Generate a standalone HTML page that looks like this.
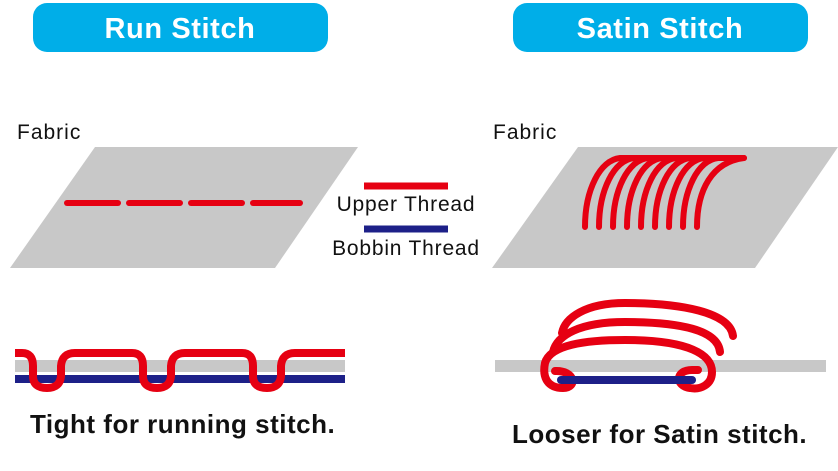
<!DOCTYPE html>
<html><head><style>body{margin:0;background:#fff}svg{display:block}</style></head><body>
<svg width="838" height="471" viewBox="0 0 838 471" xmlns="http://www.w3.org/2000/svg" font-family="Liberation Sans, sans-serif">
<rect x="33" y="3" width="295" height="49" rx="14" fill="#00aee8"/>
<text x="180" y="38" text-anchor="middle" fill="#fff" font-size="29" font-weight="bold" letter-spacing="0.6">Run Stitch</text>
<rect x="513" y="3" width="295" height="49" rx="14" fill="#00aee8"/>
<text x="660" y="38" text-anchor="middle" fill="#fff" font-size="29" font-weight="bold" letter-spacing="0.6">Satin Stitch</text>
<text x="17" y="139" font-size="21" letter-spacing="1" fill="#111">Fabric</text>
<text x="493" y="139" font-size="21" letter-spacing="1" fill="#111">Fabric</text>
<polygon points="95,147 358,147 275,268 10,268" fill="#c8c8c8"/>
<polygon points="578,147 838,147 755,268 492,268" fill="#c8c8c8"/>
<g stroke="#e60012" stroke-width="6" stroke-linecap="round">
<line x1="67" y1="203" x2="118" y2="203"/><line x1="129" y1="203" x2="180" y2="203"/><line x1="191" y1="203" x2="242" y2="203"/><line x1="253" y1="203" x2="300" y2="203"/>
</g>
<line x1="364" y1="186" x2="448" y2="186" stroke="#e60012" stroke-width="7"/>
<text x="406" y="211" text-anchor="middle" font-size="21" letter-spacing="0.8" fill="#111">Upper Thread</text>
<line x1="364" y1="229" x2="448" y2="229" stroke="#1d2088" stroke-width="7"/>
<text x="406" y="255" text-anchor="middle" font-size="21" letter-spacing="0.8" fill="#111">Bobbin Thread</text>
<g fill="none" stroke="#e60012" stroke-width="6" stroke-linecap="round">
<path d="M585 227 C585 190 600 160 620 158 L650 158"/>
<path d="M599 227 C599 190 614 160 634 158 L664 158"/>
<path d="M613 227 C613 190 628 160 648 158 L678 158"/>
<path d="M627 227 C627 190 642 160 662 158 L692 158"/>
<path d="M641 227 C641 190 656 160 676 158 L706 158"/>
<path d="M655 227 C655 190 670 160 690 158 L720 158"/>
<path d="M669 227 C669 190 684 160 704 158 L734 158"/>
<path d="M683 227 C683 190 698 160 718 158 L744 158"/>
<path d="M697 227 C697 190 712 162 744 158"/>
</g>
<rect x="15" y="360" width="330" height="12" fill="#c8c8c8"/>
<rect x="15" y="375" width="330" height="8" fill="#1d2088"/>
<path d="M15 353 H22 Q33 353 33 366 V376 Q33 388 47 388 Q60 388 61 376 V366 Q62 353 75 353 H132 Q143 353 143 366 V376 Q143 388 157 388 Q170 388 171 376 V366 Q172 353 185 353 H242 Q253 353 253 366 V376 Q253 388 267 388 Q280 388 281 376 V366 Q282 353 295 353 H345" fill="none" stroke="#e60012" stroke-width="8"/>
<text x="30" y="433" font-size="26" font-weight="bold" letter-spacing="0.5" fill="#111">Tight for running stitch.</text>
<rect x="495" y="360" width="331" height="12" fill="#c8c8c8"/>
<g fill="none" stroke="#e60012" stroke-width="8" stroke-linecap="round">
<path d="M733 336 C730 312 680 303 625 303 C585 303 565 318 562 333"/>
<path d="M720 352 C718 330 680 322 625 322 C580 322 557 335 553 352"/>
<path d="M555 371 C575 370 578 388 563 388 C548 388 542 378 545 363 C550 345 585 340 625 340 C690 340 712 355 712 372 C712 385 700 390 690 388 C675 386 675 370 692 370 L698 370"/>
</g>
<line x1="561" y1="380" x2="692" y2="380" stroke="#1d2088" stroke-width="8" stroke-linecap="round"/>
<text x="512" y="443" font-size="26" font-weight="bold" letter-spacing="0.5" fill="#111">Looser for Satin stitch.</text>
</svg>
</body></html>
